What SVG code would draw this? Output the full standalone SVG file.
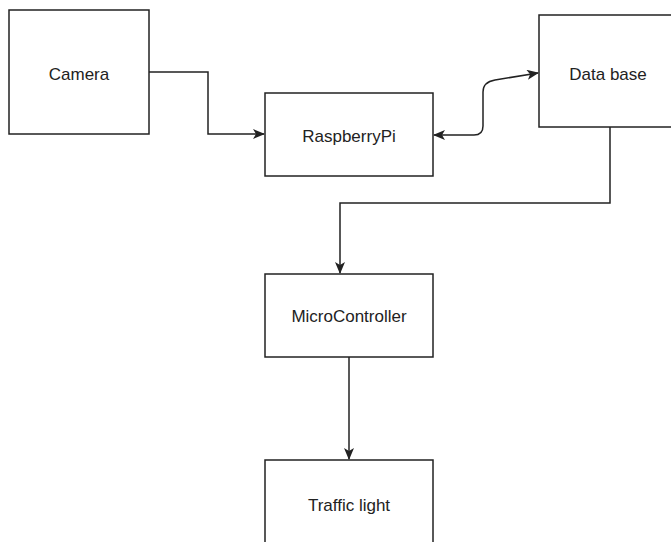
<svg xmlns="http://www.w3.org/2000/svg" width="671" height="542" viewBox="0 0 671 542">
<style>
.box{fill:#fff;stroke:#222;stroke-width:1.5}
.lbl{font-family:"Liberation Sans",Arial,sans-serif;font-size:17px;fill:#222;text-anchor:middle}
.edge{fill:none;stroke:#222;stroke-width:1.5}
</style>
<defs>
<marker id="arr" viewBox="0 0 12 10" refX="11" refY="5" markerWidth="12" markerHeight="10" markerUnits="userSpaceOnUse" orient="auto-start-reverse">
<path d="M0,0 L12,5 L0,10 L3,5 Z" fill="#222"/>
</marker>
</defs>
<rect width="671" height="542" fill="#fff"/>
<g id="camera"><rect class="box" x="9" y="10" width="140" height="124"/><text class="lbl" x="79" y="79.5">Camera</text></g>
<g id="raspberrypi"><rect class="box" x="265" y="93" width="168" height="83"/><text class="lbl" x="349" y="141.5">RaspberryPi</text></g>
<g id="database"><rect class="box" x="539" y="15" width="140" height="112"/><text class="lbl" x="608" y="80">Data base</text></g>
<g id="microcontroller"><rect class="box" x="265" y="274" width="168" height="83"/><text class="lbl" x="349" y="322">MicroController</text></g>
<g id="trafficlight"><rect class="box" x="265" y="460" width="168" height="90"/><text class="lbl" x="349" y="511">Traffic light</text></g>
<g id="connectors">
<path class="edge" d="M149,72 H208 V134 H264" marker-end="url(#arr)"/>
<path class="edge" d="M434,135 H474 Q483,135 483,126 V92 Q483,82 495,80 L538,73" marker-start="url(#arr)" marker-end="url(#arr)"/>
<path class="edge" d="M610,127 V203 H340 V273" marker-end="url(#arr)"/>
<path class="edge" d="M349,357 V459" marker-end="url(#arr)"/>
</g>
</svg>
